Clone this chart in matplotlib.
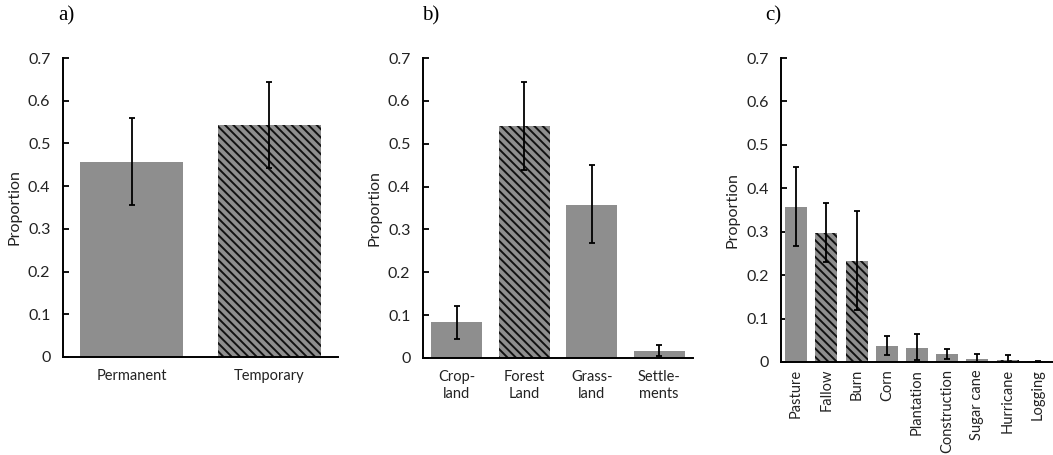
import matplotlib
matplotlib.use("Agg")
import matplotlib.pyplot as plt
import numpy as np

# ---- data ----
cats_a = ["Permanent", "Temporary"]
vals_a = [0.457, 0.543]
err_a = [0.102, 0.101]
hatch_a = [False, True]

cats_b = ["Crop-\nland", "Forest\nLand", "Grass-\nland", "Settle-\nments"]
vals_b = [0.083, 0.541, 0.358, 0.017]
err_lo_b = [0.039, 0.102, 0.090, 0.012]
err_hi_b = [0.038, 0.103, 0.092, 0.014]
hatch_b = [False, True, False, False]

cats_c = ["Pasture", "Fallow", "Burn", "Corn", "Plantation", "Construction",
          "Sugar cane", "Hurricane", "Logging"]
vals_c = [0.357, 0.296, 0.233, 0.037, 0.033, 0.018, 0.008, 0.005, 0.002]
err_lo_c = [0.090, 0.065, 0.113, 0.022, 0.028, 0.012, 0.008, 0.005, 0.002]
err_hi_c = [0.092, 0.070, 0.114, 0.023, 0.032, 0.012, 0.010, 0.010, 0.001]
hatch_c = [False, True, True, False, False, False, False, True, False]

yticks = [0, 0.1, 0.2, 0.3, 0.4, 0.5, 0.6, 0.7]
ytick_labels = ["0", "0.1", "0.2", "0.3", "0.4", "0.5", "0.6", "0.7"]
panel_labels = ["a)", "b)", "c)"]

plt.rcParams['font.family'] = ['Lato', 'DejaVu Sans']
plt.rcParams['hatch.linewidth'] = 1.4
plt.rcParams['hatch.color'] = '#111111'

GRAY = '#8e8e8e'

fig = plt.figure(figsize=(10.53, 4.55), dpi=100)

positions = [
    [0.0598, 0.2154, 0.2612, 0.6571],
    [0.4017, 0.2132, 0.2564, 0.6593],
    [0.7417, 0.2044, 0.2583, 0.6681],
]

def draw(ax, cats, vals, elo, ehi, hatches, width, rot):
    x = np.arange(len(cats))
    for xi, v, h in zip(x, vals, hatches):
        ax.bar(xi, v, width=width, color=GRAY, edgecolor='#111111',
               linewidth=0, hatch='\\\\\\\\' if h else None, zorder=2)
    ax.errorbar(x, vals, yerr=[elo, ehi], fmt='none', ecolor='black',
                elinewidth=1.3, capsize=2, capthick=1.3, zorder=3)
    ax.set_xlim(-0.5, len(cats) - 0.5)
    ax.set_ylim(0, 0.7)
    ax.set_yticks(yticks)
    ax.set_yticklabels(ytick_labels, fontsize=11.5, color='#222222')
    ax.set_xticks(x)
    ax.set_xticklabels(cats, fontsize=10.5, rotation=rot, color='#222222',
                       linespacing=1.25)
    ax.tick_params(axis='y', direction='in', length=4, width=1.3, pad=9)
    ax.tick_params(axis='x', length=0, pad=9 if rot == 0 else 5)
    ax.spines['top'].set_visible(False)
    ax.spines['right'].set_visible(False)
    ax.spines['left'].set_linewidth(1.4)
    ax.spines['bottom'].set_linewidth(1.4)
    ax.set_ylabel("Proportion", fontsize=11.5, color='#222222', labelpad=5)

ax_a = fig.add_axes(positions[0])
draw(ax_a, cats_a, vals_a, err_a, err_a, hatch_a, 0.75, 0)
ax_b = fig.add_axes(positions[1])
draw(ax_b, cats_b, vals_b, err_lo_b, err_hi_b, hatch_b, 0.75, 0)
ax_c = fig.add_axes(positions[2])
draw(ax_c, cats_c, vals_c, err_lo_c, err_hi_c, hatch_c, 0.73, 90)

label_x = [66, 431, 773]
for lx, lab in zip(label_x, panel_labels):
    fig.text(lx / 1053, 1 - 16 / 455, lab, ha='center', va='center',
             fontsize=15, family='Liberation Serif')

fig.savefig("out.png", dpi=100)
